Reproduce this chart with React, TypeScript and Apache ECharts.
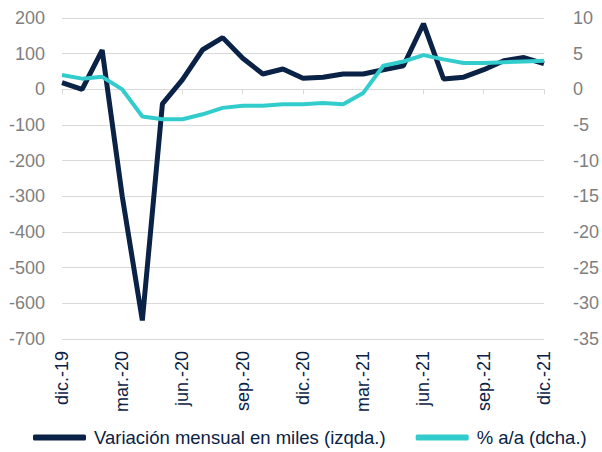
import React, { useEffect, useRef } from "react";
import * as echarts from "echarts";

const months = [
  "dic.-19", "ene.-20", "feb.-20", "mar.-20", "abr.-20", "may.-20", "jun.-20",
  "jul.-20", "ago.-20", "sep.-20", "oct.-20", "nov.-20", "dic.-20", "ene.-21",
  "feb.-21", "mar.-21", "abr.-21", "may.-21", "jun.-21", "jul.-21", "ago.-21",
  "sep.-21", "oct.-21", "nov.-21", "dic.-21",
];

const variacionMensual = [
  19, 0, 110, -300, -648, -41, 27, 111, 145, 87, 43, 57, 31, 34, 43, 43, 55,
  66, 184, 29, 34, 55, 80, 89, 72,
];

const tasaAnual = [
  2.0, 1.5, 1.75, 0.0, -3.8, -4.2, -4.2, -3.5, -2.6, -2.3, -2.3, -2.1, -2.1,
  -1.9, -2.1, -0.5, 3.3, 3.9, 4.8, 4.2, 3.7, 3.7, 3.8, 3.9, 4.0,
];

const seriesNames = ["Variación mensual en miles (izqda.)", "% a/a (dcha.)"];

const NAVY = "#0a2245";
const TEAL = "#33cccc";
const FONT = "Liberation Sans, Arial, sans-serif";

export default function App() {
  const ref = useRef<HTMLDivElement>(null);
  useEffect(() => {
    if (!ref.current) return;
    const chart = echarts.init(ref.current, null, { renderer: "svg" });
    chart.setOption({
      animation: false,
      textStyle: { fontFamily: FONT },
      grid: { left: 62, right: 56, top: 18, bottom: 113, containLabel: false },
      legend: {
        bottom: 0,
        left: 28,
        itemWidth: 53,
        itemHeight: 6,
        itemGap: 30,
        textStyle: { fontSize: 18.5, color: NAVY, fontFamily: FONT, padding: [0, 0, 0, 3] },
        data: [
          { name: seriesNames[0], icon: "roundRect" },
          { name: seriesNames[1], icon: "roundRect" },
        ],
      },
      xAxis: [
        {
          type: "category",
          data: months,
          boundaryGap: false,
          position: "bottom",
          axisLine: { show: false, onZero: false },
          axisTick: { show: false },
          axisLabel: {
            rotate: 90,
            interval: 2,
            color: NAVY,
            fontSize: 18,
            margin: 12,
            fontFamily: FONT,
          },
          splitLine: { show: false },
        },
        {
          type: "category",
          data: months,
          boundaryGap: false,
          position: "bottom",
          axisLine: {
            show: true,
            onZero: true,
            onZeroAxisIndex: 0,
            lineStyle: { color: "#d9d9d9", width: 1 },
          },
          axisTick: {
            show: true,
            interval: 2,
            length: 5,
            lineStyle: { color: "#d9d9d9" },
          },
          axisLabel: { show: false },
          splitLine: { show: false },
        },
      ],
      yAxis: [
        {
          type: "value",
          min: -700,
          max: 200,
          interval: 100,
          position: "left",
          axisLine: { show: false },
          axisTick: { show: false },
          axisLabel: { color: "#7f7f7f", fontSize: 18, margin: 17, fontFamily: FONT },
          splitLine: { show: true, lineStyle: { color: "#d9d9d9", width: 1 } },
        },
        {
          type: "value",
          min: -35,
          max: 10,
          interval: 5,
          position: "right",
          axisLine: { show: false },
          axisTick: { show: false },
          axisLabel: { color: "#7f7f7f", fontSize: 18, margin: 29, fontFamily: FONT },
          splitLine: { show: false },
        },
      ],
      series: [
        {
          name: seriesNames[0],
          type: "line",
          xAxisIndex: 0,
          yAxisIndex: 0,
          data: variacionMensual,
          showSymbol: false,
          symbol: "none",
          lineStyle: { color: NAVY, width: 5 },
          itemStyle: { color: NAVY },
          z: 3,
        },
        {
          name: seriesNames[1],
          type: "line",
          xAxisIndex: 0,
          yAxisIndex: 1,
          data: tasaAnual,
          showSymbol: false,
          symbol: "none",
          lineStyle: { color: TEAL, width: 4 },
          itemStyle: { color: TEAL },
          z: 4,
        },
      ],
    });
    return () => chart.dispose();
  }, []);
  return <div ref={ref} style={{ width: 602, height: 452, position: "absolute", left: 0, top: 0 }} />;
}
